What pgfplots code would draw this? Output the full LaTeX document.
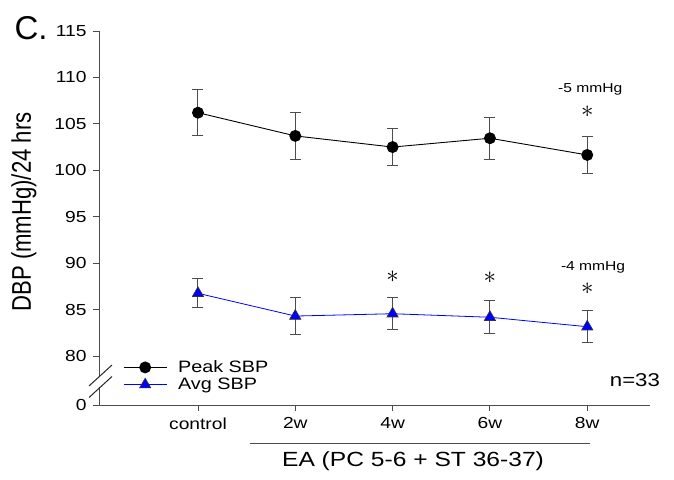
\documentclass[border=0pt]{standalone}
\usepackage{fontspec}
\setmainfont{Liberation Sans}[FakeStretch=1.2]
\newfontfamily\plainsans{Liberation Sans}
\newfontfamily\ylabfont{Liberation Sans}[FakeStretch=0.82]
\usepackage{pgfplots}
\usepackage{pgfplotstable}
\pgfplotsset{compat=1.18}

\pgfplotstableread{
x y e
0 106.20 2.45
1 103.70 2.55
2 102.50 2.00
3 103.45 2.25
4 101.65 1.95
}\peak

\pgfplotstableread{
x y e
0 86.75 1.57
1 84.30 2.00
2 84.55 1.70
3 84.17 1.80
4 83.15 1.70
}\avg

\definecolor{axisgray}{gray}{0.3}
\tikzset{
  astk/.style={inner sep=0pt, yshift=-6.2pt, font=\fontsize{25}{25}\selectfont},
  mmnote/.style={inner sep=0pt, font=\fontsize{13}{13}\selectfont},
}
\newcommand{\sig}{\smash{$\ast$}}

\begin{document}
\begin{tikzpicture}
\path[use as bounding box] (0pt,0pt) rectangle (674pt,479pt);
\begin{axis}[
    at={(99pt,74pt)}, anchor=south west,
    scale only axis, width=551pt, height=374pt,
    xmin=-1.017, xmax=4.645,
    ymin=74.72, ymax=115,
    axis x line*=bottom, axis y line*=left,
    x axis line style={axisgray, line width=1pt},
    y axis line style={draw=none},
    tick style={axisgray, line width=0.9pt},
    tick align=outside, major tick length=6pt,
    xtick={0,1,2,3,4},
    xticklabels={control,2w,4w,6w,8w},
    ytick={74.72,80,85,90,95,100,105,110,115},
    yticklabels={0,80,85,90,95,100,105,110,115},
    ticklabel style={font=\fontsize{16}{18}\selectfont},
    yticklabel style={xshift=-3pt},
    xticklabel style={yshift=-3pt},
    clip=false,
    legend style={at={(axis cs:-0.77,77.85)}, anchor=west, draw=none, fill=none,
        inner sep=0pt, row sep=2pt, font=\fontsize{16.5}{18}\selectfont,
        nodes={inner sep=1pt},
        /tikz/every odd column/.append style={column sep=10pt}},
    legend cell align=left,
    legend image code/.code={%
        \draw[#1, mark repeat=2, mark phase=2]
        plot coordinates {(0pt,0pt) (21.5pt,0pt) (43pt,0pt)};},
]
\addplot[black, line width=0.9pt, mark=*, mark size=5.5pt,
    mark options={solid, fill=black},
    error bars/.cd, y dir=both, y explicit,
    error bar style={axisgray, line width=1pt},
    error mark options={rotate=90, mark size=5.5pt, axisgray, line width=1pt}]
    table[x=x, y=y, y error=e] {\peak};
\addlegendentry{Peak SBP}
\addplot[blue, line width=0.8pt, mark=triangle*, mark size=6.5pt,
    mark options={solid, fill=blue, draw=black!80, line width=0.6pt},
    error bars/.cd, y dir=both, y explicit,
    error bar style={axisgray, line width=1pt},
    error mark options={rotate=90, mark size=5.5pt, axisgray, line width=1pt}]
    table[x=x, y=y, y error=e] {\avg};
\addlegendentry{Avg SBP}

% annotations
\node[mmnote] at (axis cs:4.03,108.75) {-5 mmHg};
\node[mmnote] at (axis cs:4.06,89.51) {-4 mmHg};
\node[astk] at (axis cs:4,106.3) {\sig};
\node[astk] at (axis cs:2,88.54) {\sig};
\node[astk] at (axis cs:3,88.47) {\sig};
\node[astk] at (axis cs:4,87.30) {\sig};
\node[font=\fontsize{18.5}{20}\selectfont] at (axis cs:4.49,77.42) {n=33};
\end{axis}

% broken y axis, pixel coordinates (x right, y down)
\begin{scope}[shift={(0pt,479pt)}, x=1pt, y=-1pt]
  \draw[axisgray, line width=1pt] (99.5,31) -- (99.5,376);
  \draw[axisgray, line width=1pt] (99.5,387) -- (99.5,405);
  \draw[black!85, line width=1pt] (89,386) -- (112,365);
  \draw[black!85, line width=1pt] (89,397.5) -- (112,376.5);
  % bracket under the EA weeks
  \draw[axisgray, line width=1pt] (250,443) -- (590,443);
  \node[font=\fontsize{20.5}{22}\selectfont] at (413,461) {EA (PC 5-6 + ST 36-37)};
  \node[rotate=90, font=\ylabfont\fontsize{27}{29}\selectfont] at (24,212) {DBP (mmHg)/24 hrs};
  \node[font=\plainsans\fontsize{33}{35}\selectfont, anchor=west] at (11,28) {C.};
\end{scope}
\end{tikzpicture}
\end{document}
